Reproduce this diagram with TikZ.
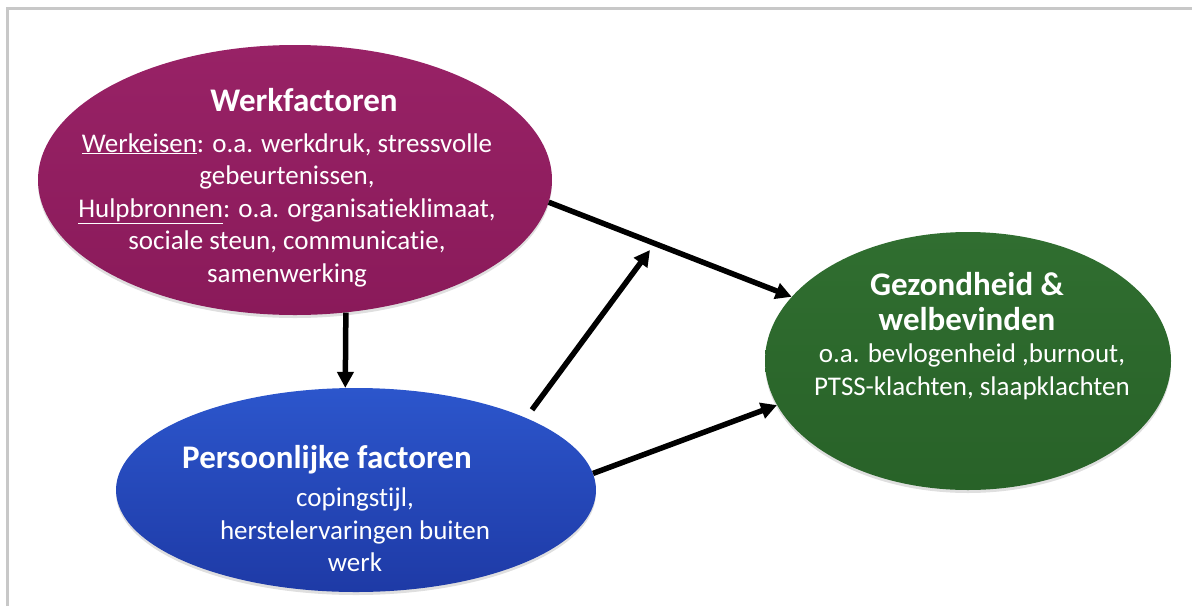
\documentclass[tikz,border=0pt]{standalone}
\usepackage{fontspec}
\setmainfont{Carlito}[Ligatures=NoCommon]
\usetikzlibrary{arrows.meta,shapes.geometric,shadows,positioning}
\definecolor{werkpaars}{RGB}{138,26,90}
\definecolor{werkpaarslicht}{RGB}{152,34,102}
\definecolor{persoonblauw}{RGB}{30,58,166}
\definecolor{persoonblauwlicht}{RGB}{44,86,204}
\definecolor{gezondgroen}{RGB}{40,98,40}
\definecolor{gezondgroenlicht}{RGB}{48,110,48}
\definecolor{kader}{RGB}{200,200,200}
\tikzset{
  blob/.style={ellipse, draw=none, inner sep=0pt,
    drop shadow={opacity=0.25, shadow xshift=0pt, shadow yshift=-3pt}},
  titel/.style={text=white, align=center, font=\fontsize{33}{35}\selectfont\bfseries},
  tekst/.style={text=white, align=center, font=\fontsize{27}{32.5}\selectfont},
  pijl/.style={line width=5.5pt, -{Triangle[length=16pt,width=16pt]}}
}
\begin{document}
\begin{tikzpicture}[x=1pt,y=-1pt]
  \useasboundingbox (0,0) rectangle (1192,606);
  \draw[kader, line width=3pt] (7,606) -- (7,8) -- (1192,8);
% ellipses
  \node[blob, top color=werkpaarslicht, bottom color=werkpaars,
        minimum width=514pt, minimum height=270pt] (werk) at (295,180) {};
  \node[blob, top color=persoonblauwlicht, bottom color=persoonblauw,
        minimum width=480pt, minimum height=204pt] (persoon) at (356,490) {};
  \node[blob, top color=gezondgroenlicht, bottom color=gezondgroen,
        minimum width=406pt, minimum height=258pt] (gezond) at (968,361) {};
% texts
  \node[titel] (werktitel) at (304,100) {Werkfactoren};
  \node[tekst] (werktekst) at (287,210) {\underline{Werkeisen}: o.a. werkdruk, stressvolle\\
    gebeurtenissen,\\ \underline{Hulpbronnen}: o.a. organisatieklimaat,\\
    sociale steun, communicatie,\\ samenwerking};
  \node[titel] (persoontitel) at (327,460) {Persoonlijke factoren};
  \node[tekst] (persoontekst) at (355,530) {copingstijl,\\ herstelervaringen buiten\\ werk};
  \node[titel] (gezondtitel) at (967,302) {Gezondheid \&\\ welbevinden};
  \node[tekst] (gezondtekst) at (972,372) {o.a. bevlogenheid ,burnout,\\ PTSS-klachten, slaapklachten};
% arrows
  \coordinate (moderatie) at (650,250);
  \draw[pijl] (werk.-5) -- (gezond.160.7);
  \draw[pijl] (werk.-69.7) -- (persoon.96.7);
  \draw[pijl] (persoon.4.8) -- (gezond.-167.6);
  \draw[pijl, shorten <=10pt] (persoon.23.3) -- (moderatie);
\end{tikzpicture}
\end{document}
